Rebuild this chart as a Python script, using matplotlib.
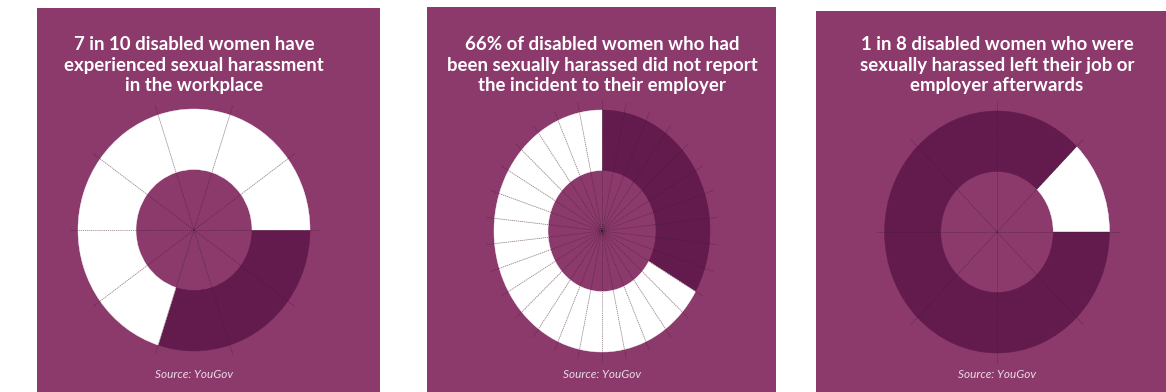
import numpy as np
import matplotlib.pyplot as plt

# data: each ring is cut into equal segments, some of them white (the stat)
titles = [
    ["7 in 10 disabled women have", "experienced sexual harassment", "in the workplace"],
    ["66% of disabled women who had", "been sexually harassed did not report", "the incident to their employer"],
    ["1 in 8 disabled women who were", "sexually harassed left their job or", "employer afterwards"],
]
segments = [10, 30, 8]
white_segments = [7, 20, 1]
source = "Source: YouGov"

# layout in pixels (x0, y0, x1, y1 from top-left)
W, H = 1166, 392
panels = [(37, 8, 380, 392), (427, 7, 776, 392), (816, 11, 1166, 392)]
centers = [(194, 230), (602, 231), (997, 232)]
rx_list = [116, 108, 112.5]
ry = 121
# ring drawing: start angle, clockwise?, white drawn first?
starts = [0, 90, 0]
clockwise = [True, True, False]
white_first = [False, False, True]

bg = "#8c3a6c"
dark = "#631a4c"
line_col = "#3a1a30"

plt.rcParams['font.family'] = ['Lato', 'DejaVu Sans']


def rect(x0, y0, x1, y1):
    return [x0 / W, 1 - y1 / H, (x1 - x0) / W, (y1 - y0) / H]


fig = plt.figure(figsize=(W / 100, H / 100), dpi=100)
fig.patch.set_facecolor("white")

for i in range(3):
    # purple card
    pax = fig.add_axes(rect(*panels[i]))
    pax.set_facecolor(bg)
    pax.set_xticks([])
    pax.set_yticks([])
    for s in pax.spines.values():
        s.set_visible(False)

    cx, cy = centers[i]
    rx = rx_list[i]
    lim = 1.3
    ax = fig.add_axes(rect(cx - lim * rx, cy - lim * ry, cx + lim * rx, cy + lim * ry))
    ax.patch.set_alpha(0)

    n = segments[i]
    n_white = white_segments[i]
    if white_first[i]:
        cols = ["white"] * n_white + [dark] * (n - n_white)
    else:
        cols = [dark] * (n - n_white) + ["white"] * n_white
    ax.pie([1] * n, colors=cols, startangle=starts[i], counterclock=not clockwise[i],
           radius=1, wedgeprops=dict(width=0.5, linewidth=0.3, antialiased=True))
    for w, c in zip(ax.patches, cols):
        w.set_edgecolor(c)

    # dotted spokes at every segment boundary
    step = 360 / n
    for k in range(n):
        a = np.deg2rad(starts[i] + k * step)
        ax.plot([0, 1.08 * np.cos(a)], [0, 1.08 * np.sin(a)], color=line_col,
                lw=0.6, ls=(0, (1.5, 1)), alpha=0.5)

    ax.set_xlim(-lim, lim)
    ax.set_ylim(-lim, lim)
    ax.set_aspect('auto')
    ax.axis('off')

    # title lines
    for line, yb in zip(titles[i], [50, 70.5, 91]):
        fig.text(cx / W, 1 - yb / H, line, ha='center', va='baseline',
                 color='white', fontsize=13.4, fontweight='bold')
    fig.text(cx / W, 1 - 378 / H, source, ha='center', va='baseline',
             color='#eadbe5', fontsize=8.5, style='italic')

fig.savefig("out.png", dpi=100)
